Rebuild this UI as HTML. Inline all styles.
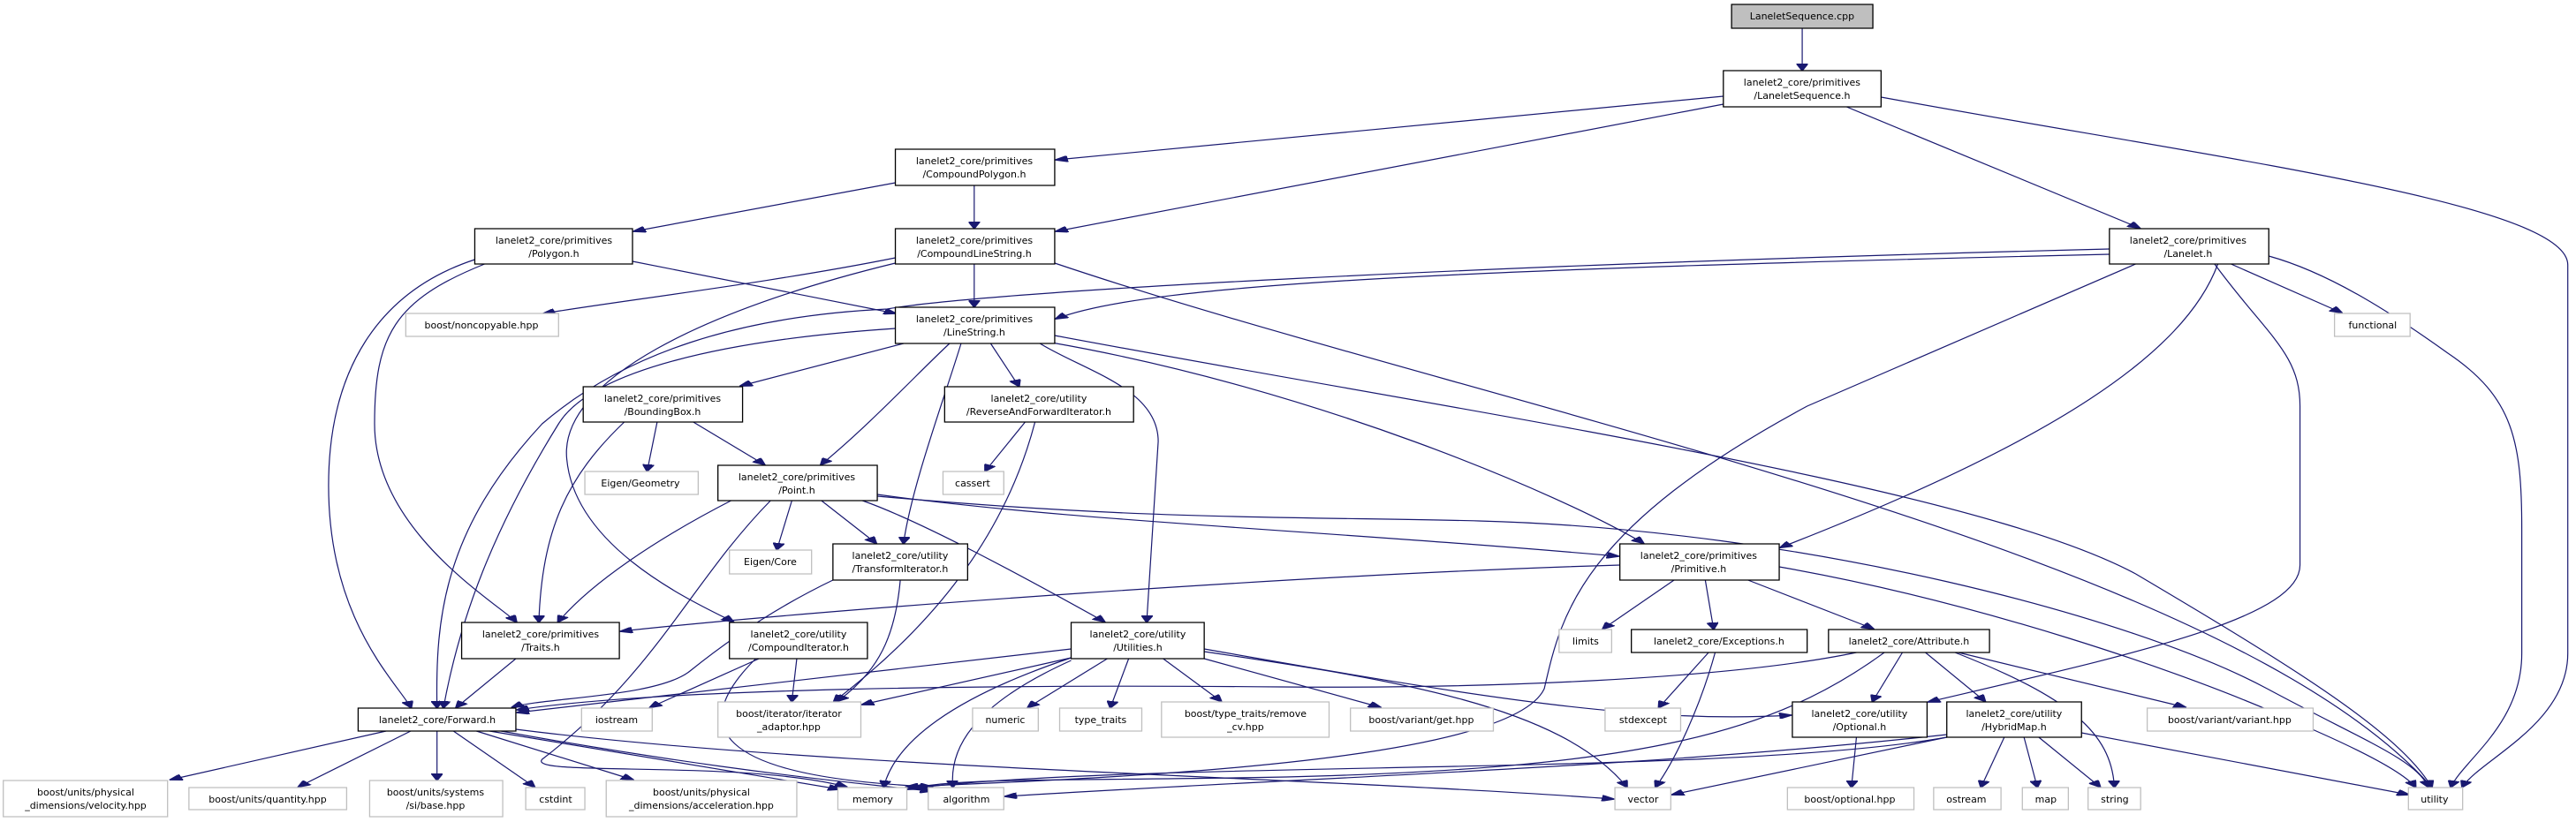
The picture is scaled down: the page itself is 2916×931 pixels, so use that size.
<!DOCTYPE html>
<html><head><meta charset="utf-8"><style>
html,body{margin:0;padding:0;background:#fff;}
svg{display:block;}
.e{fill:none;stroke:#191970;stroke-width:1.2;vector-effect:non-scaling-stroke;}
.nb{fill:#fff;stroke:#000;stroke-width:1.3;vector-effect:non-scaling-stroke;}
.ng{fill:#fff;stroke:#bfbfbf;stroke-width:1.3;vector-effect:non-scaling-stroke;}
.nr{fill:#bfbfbf;stroke:#000;stroke-width:1.3;vector-effect:non-scaling-stroke;}
text{font-family:"DejaVu Sans","Liberation Sans",sans-serif;font-size:11px;fill:#000;text-anchor:middle;}
</style></head><body>
<svg width="2916" height="931" viewBox="0 0 1568 931" preserveAspectRatio="none" xmlns="http://www.w3.org/2000/svg">
<defs><marker id="a" markerUnits="userSpaceOnUse" markerWidth="8" markerHeight="7" refX="7" refY="3.5" orient="auto"><path d="M0,0 L8,3.5 L0,7 z" fill="#191970" stroke="#191970"/></marker></defs>
<g marker-end="url(#a)">
<path class="e" d="M1097,32 L1097,79"/>
<path class="e" d="M1049,109 L643,181"/>
<path class="e" d="M1049,118 L643,262"/>
<path class="e" d="M1124,121 L1302,258"/>
<path class="e" d="M1145,110 C1350,180 1563,230 1563,300 L1563,740 C1563,820 1510,860 1499,891"/>
<path class="e" d="M545,207 L386,262"/>
<path class="e" d="M593,210 L593,258"/>
<path class="e" d="M385,296 L545,355"/>
<path class="e" d="M289,294 C230,330 200,420 200,550 C200,700 240,770 250,801"/>
<path class="e" d="M295,299 C240,340 228,380 228,480 C228,600 300,680 314,704"/>
<path class="e" d="M545,292 C470,320 380,340 331,355"/>
<path class="e" d="M593,299 L593,347"/>
<path class="e" d="M545,298 C430,350 340,430 345,520 C350,620 420,680 446,704"/>
<path class="e" d="M642,298 C900,460 1350,620 1480,891"/>
<path class="e" d="M1284,288 C900,305 700,320 643,361"/>
<path class="e" d="M1284,282 C900,300 600,330 540,350 C450,358 380,400 330,480 C270,600 265,700 266,801"/>
<path class="e" d="M1350,299 C1330,400 1250,500 1084,620"/>
<path class="e" d="M1300,299 L1100,460 C960,600 950,700 940,780 C920,860 700,880 552,891"/>
<path class="e" d="M1348,299 C1380,380 1400,400 1400,460 L1400,640 C1400,700 1300,740 1174,795"/>
<path class="e" d="M1381,290 C1420,310 1460,360 1490,400 C1530,450 1535,500 1535,600 L1535,740 C1535,820 1500,860 1492,891"/>
<path class="e" d="M1358,299 L1425,354"/>
<path class="e" d="M550,389 L451,437"/>
<path class="e" d="M578,389 C560,420 530,480 500,526"/>
<path class="e" d="M603,389 L620,437"/>
<path class="e" d="M585,389 C575,450 555,550 550,615"/>
<path class="e" d="M633,389 C660,420 705,440 705,500 L698,704"/>
<path class="e" d="M640,388 C800,440 950,560 1000,615"/>
<path class="e" d="M642,380 C900,470 1200,550 1300,650 C1400,760 1460,830 1480,891"/>
<path class="e" d="M545,372 C440,385 360,420 340,480 C300,600 280,700 270,801"/>
<path class="e" d="M445,567 C400,610 360,660 340,704"/>
<path class="e" d="M469,567 C420,660 400,760 330,860 C320,880 450,860 515,891"/>
<path class="e" d="M482,567 L473,622"/>
<path class="e" d="M500,567 L533,615"/>
<path class="e" d="M525,567 C560,590 620,650 672,704"/>
<path class="e" d="M534,560 C650,590 800,600 985,630"/>
<path class="e" d="M534,562 C700,590 800,585 900,590 C1100,600 1300,700 1380,780 C1440,840 1470,860 1478,891"/>
<path class="e" d="M400,478 L394,533"/>
<path class="e" d="M422,478 L465,526"/>
<path class="e" d="M380,478 C345,540 330,600 328,704"/>
<path class="e" d="M624,478 L600,533"/>
<path class="e" d="M630,478 C610,620 560,720 508,794"/>
<path class="e" d="M507,657 C470,690 440,730 420,760 C400,790 330,790 312,801"/>
<path class="e" d="M548,657 C545,720 535,760 510,794"/>
<path class="e" d="M314,746 L278,801"/>
<path class="e" d="M462,746 L396,801"/>
<path class="e" d="M485,746 L482,794"/>
<path class="e" d="M460,746 C420,820 430,880 567,891"/>
<path class="e" d="M652,735 L315,807"/>
<path class="e" d="M652,745 L525,798"/>
<path class="e" d="M674,746 L626,801"/>
<path class="e" d="M687,746 L676,801"/>
<path class="e" d="M708,746 L743,794"/>
<path class="e" d="M733,746 L840,801"/>
<path class="e" d="M733,735 C900,790 1000,820 1090,810"/>
<path class="e" d="M733,738 C850,770 950,800 990,891"/>
<path class="e" d="M652,745 C580,790 545,840 538,891"/>
<path class="e" d="M652,748 C590,800 578,850 580,891"/>
<path class="e" d="M235,828 L104,883"/>
<path class="e" d="M250,828 L182,891"/>
<path class="e" d="M266,828 L266,883"/>
<path class="e" d="M276,828 L325,891"/>
<path class="e" d="M290,828 L385,883"/>
<path class="e" d="M298,828 L511,894"/>
<path class="e" d="M305,828 C400,860 480,880 567,896"/>
<path class="e" d="M314,826 C500,870 800,880 982,905"/>
<path class="e" d="M986,640 C800,650 500,690 378,715"/>
<path class="e" d="M1019,657 L976,712"/>
<path class="e" d="M1038,657 L1043,712"/>
<path class="e" d="M1064,657 L1140,712"/>
<path class="e" d="M1083,642 C1200,680 1330,760 1400,820 C1450,860 1465,880 1470,891"/>
<path class="e" d="M1040,739 L1010,801"/>
<path class="e" d="M1044,739 C1035,800 1020,860 1008,891"/>
<path class="e" d="M1130,739 C1050,770 900,780 780,778 C600,775 400,780 315,804"/>
<path class="e" d="M1158,739 L1140,794"/>
<path class="e" d="M1172,739 L1208,794"/>
<path class="e" d="M1190,739 C1260,790 1285,830 1287,891"/>
<path class="e" d="M1192,739 L1330,801"/>
<path class="e" d="M1147,739 C1080,830 1000,870 783,880 C650,885 580,880 553,894"/>
<path class="e" d="M1185,835 L1018,900"/>
<path class="e" d="M1220,835 L1206,891"/>
<path class="e" d="M1232,835 L1240,891"/>
<path class="e" d="M1241,835 L1278,891"/>
<path class="e" d="M1267,830 L1466,900"/>
<path class="e" d="M1185,832 C1000,870 800,880 612,902"/>
<path class="e" d="M1185,835 C1050,880 700,860 555,893"/>
<path class="e" d="M1130,835 L1127,891"/>
</g>
<g>
<rect class="nr" x="1054" y="5" width="86" height="27"/>
<rect class="nb" x="1049" y="80" width="96" height="41"/>
<rect class="nb" x="545" y="169" width="97" height="41"/>
<rect class="nb" x="289" y="259" width="96" height="40"/>
<rect class="nb" x="545" y="259" width="97" height="40"/>
<rect class="nb" x="1284" y="259" width="97" height="40"/>
<rect class="ng" x="1421" y="355" width="46" height="26"/>
<rect class="ng" x="247" y="355" width="93" height="26"/>
<rect class="nb" x="545" y="348" width="97" height="41"/>
<rect class="nb" x="355" y="438" width="97" height="40"/>
<rect class="nb" x="575" y="438" width="115" height="40"/>
<rect class="ng" x="356" y="534" width="69" height="26"/>
<rect class="nb" x="437" y="527" width="97" height="40"/>
<rect class="ng" x="574" y="534" width="37" height="26"/>
<rect class="ng" x="444" y="623" width="50" height="27"/>
<rect class="nb" x="507" y="616" width="82" height="41"/>
<rect class="nb" x="281" y="705" width="96" height="41"/>
<rect class="nb" x="444" y="705" width="84" height="41"/>
<rect class="nb" x="652" y="705" width="81" height="41"/>
<rect class="nb" x="218" y="802" width="96" height="26"/>
<rect class="ng" x="354" y="802" width="43" height="26"/>
<rect class="ng" x="437" y="795" width="87" height="40"/>
<rect class="ng" x="592" y="802" width="40" height="26"/>
<rect class="ng" x="645" y="802" width="50" height="26"/>
<rect class="ng" x="707" y="795" width="102" height="40"/>
<rect class="ng" x="822" y="802" width="87" height="26"/>
<rect class="ng" x="977" y="802" width="46" height="26"/>
<rect class="nb" x="1091" y="795" width="82" height="40"/>
<rect class="nb" x="1185" y="795" width="82" height="40"/>
<rect class="ng" x="1307" y="802" width="101" height="26"/>
<rect class="nb" x="986" y="616" width="97" height="41"/>
<rect class="ng" x="949" y="713" width="32" height="26"/>
<rect class="nb" x="993" y="713" width="107" height="26"/>
<rect class="nb" x="1113" y="713" width="98" height="26"/>
<rect class="ng" x="2" y="884" width="100" height="41"/>
<rect class="ng" x="115" y="892" width="96" height="25"/>
<rect class="ng" x="225" y="884" width="81" height="41"/>
<rect class="ng" x="320" y="892" width="36" height="25"/>
<rect class="ng" x="369" y="884" width="116" height="41"/>
<rect class="ng" x="510" y="892" width="42" height="25"/>
<rect class="ng" x="565" y="892" width="46" height="25"/>
<rect class="ng" x="983" y="892" width="34" height="25"/>
<rect class="ng" x="1088" y="892" width="77" height="25"/>
<rect class="ng" x="1177" y="892" width="41" height="25"/>
<rect class="ng" x="1231" y="892" width="28" height="25"/>
<rect class="ng" x="1271" y="892" width="32" height="25"/>
<rect class="ng" x="1466" y="892" width="33" height="25"/>
</g>
<g transform="scale(0.5377,1)">
<text x="2040" y="22">LaneletSequence.cpp</text>
<text x="2040" y="97">lanelet2_core/primitives</text><text x="2040" y="112">/LaneletSequence.h</text>
<text x="1103" y="186">lanelet2_core/primitives</text><text x="1103" y="201">/CompoundPolygon.h</text>
<text x="627" y="276">lanelet2_core/primitives</text><text x="627" y="291">/Polygon.h</text>
<text x="1103" y="276">lanelet2_core/primitives</text><text x="1103" y="291">/CompoundLineString.h</text>
<text x="2477" y="276">lanelet2_core/primitives</text><text x="2477" y="291">/Lanelet.h</text>
<text x="2686" y="372">functional</text>
<text x="545" y="372">boost/noncopyable.hpp</text>
<text x="1103" y="365">lanelet2_core/primitives</text><text x="1103" y="380">/LineString.h</text>
<text x="750" y="455">lanelet2_core/primitives</text><text x="750" y="470">/BoundingBox.h</text>
<text x="1176" y="455">lanelet2_core/utility</text><text x="1176" y="470">/ReverseAndForwardIterator.h</text>
<text x="725" y="551">Eigen/Geometry</text>
<text x="902" y="544">lanelet2_core/primitives</text><text x="902" y="559">/Point.h</text>
<text x="1101" y="551">cassert</text>
<text x="872" y="640">Eigen/Core</text>
<text x="1019" y="633">lanelet2_core/utility</text><text x="1019" y="648">/TransformIterator.h</text>
<text x="612" y="722">lanelet2_core/primitives</text><text x="612" y="737">/Traits.h</text>
<text x="904" y="722">lanelet2_core/utility</text><text x="904" y="737">/CompoundIterator.h</text>
<text x="1288" y="722">lanelet2_core/utility</text><text x="1288" y="737">/Utilities.h</text>
<text x="495" y="819">lanelet2_core/Forward.h</text>
<text x="698" y="819">iostream</text>
<text x="893" y="812">boost/iterator/iterator</text><text x="893" y="827">_adaptor.hpp</text>
<text x="1138" y="819">numeric</text>
<text x="1246" y="819">type_traits</text>
<text x="1410" y="812">boost/type_traits/remove</text><text x="1410" y="827">_cv.hpp</text>
<text x="1609" y="819">boost/variant/get.hpp</text>
<text x="1860" y="819">stdexcept</text>
<text x="2105" y="812">lanelet2_core/utility</text><text x="2105" y="827">/Optional.h</text>
<text x="2280" y="812">lanelet2_core/utility</text><text x="2280" y="827">/HybridMap.h</text>
<text x="2524" y="819">boost/variant/variant.hpp</text>
<text x="1923" y="633">lanelet2_core/primitives</text><text x="1923" y="648">/Primitive.h</text>
<text x="1795" y="730">limits</text>
<text x="1946" y="730">lanelet2_core/Exceptions.h</text>
<text x="2161" y="730">lanelet2_core/Attribute.h</text>
<text x="97" y="901">boost/units/physical</text><text x="97" y="916">_dimensions/velocity.hpp</text>
<text x="303" y="909">boost/units/quantity.hpp</text>
<text x="493" y="901">boost/units/systems</text><text x="493" y="916">/si/base.hpp</text>
<text x="629" y="909">cstdint</text>
<text x="794" y="901">boost/units/physical</text><text x="794" y="916">_dimensions/acceleration.hpp</text>
<text x="988" y="909">memory</text>
<text x="1094" y="909">algorithm</text>
<text x="1860" y="909">vector</text>
<text x="2094" y="909">boost/optional.hpp</text>
<text x="2226" y="909">ostream</text>
<text x="2316" y="909">map</text>
<text x="2394" y="909">string</text>
<text x="2756" y="909">utility</text>
</g>
</svg>
</body></html>
